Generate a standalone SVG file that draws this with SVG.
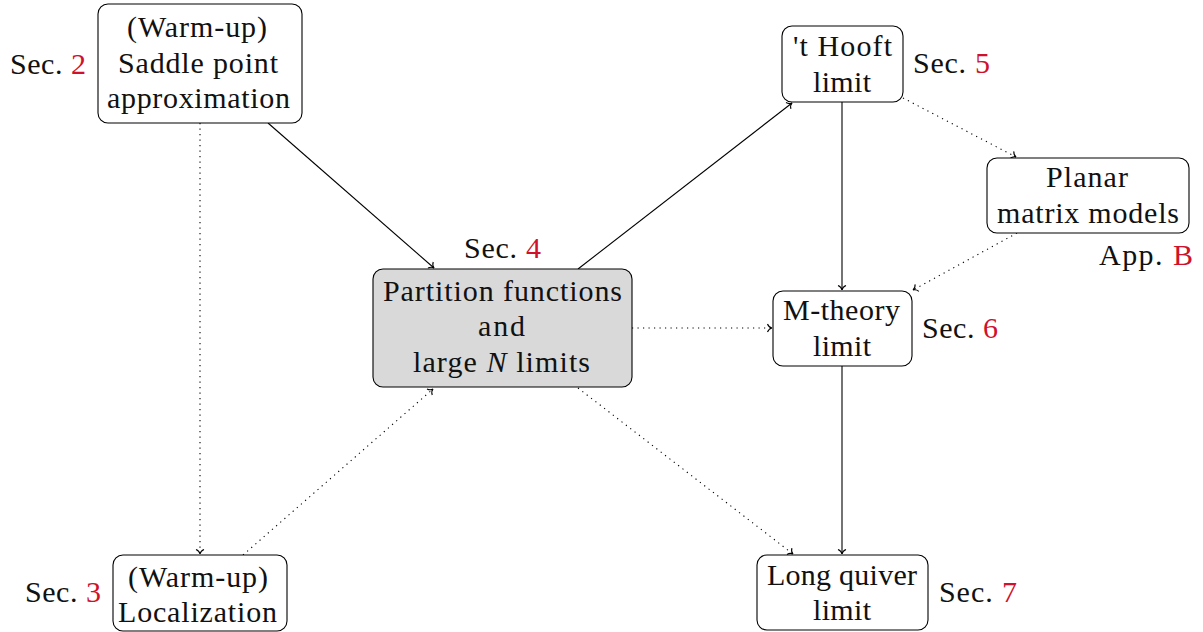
<svg xmlns="http://www.w3.org/2000/svg" width="1203" height="632" viewBox="0 0 1203 632">
<defs>
<style>
.box{fill:#fff;stroke:#000;stroke-width:1.1}
.gray{fill:#d9d9d9}
.t{font-family:'Liberation Serif','DejaVu Serif','Times New Roman',serif;font-size:30px;fill:#111}
.c{text-anchor:middle}
.red{fill:#d0112b}
.e{fill:none;stroke:#000;stroke-width:1.1}
.dot{stroke-dasharray:1.2 4.3}
</style>
<marker id="ah" viewBox="-6 -5 7 10" markerWidth="7" markerHeight="10" refX="0" refY="0" orient="auto" markerUnits="userSpaceOnUse">
<path d="M-4.5,-4 C-3.5,-1.5 -1.5,-0.3 0,0 C-1.5,0.3 -3.5,1.5 -4.5,4" fill="none" stroke="#000" stroke-width="1.1"/>
</marker>
</defs>
<rect width="1203" height="632" fill="#fff"/>
<g id="connectors">
<path class="e" d="M268,123 L434,268" marker-end="url(#ah)"/>
<path class="e dot" d="M200,123 L200,554" marker-end="url(#ah)"/>
<path class="e dot" d="M243,555 L433,389" marker-end="url(#ah)"/>
<path class="e" d="M578,269 L792,103" marker-end="url(#ah)"/>
<path class="e dot" d="M632,328 L772,328" marker-end="url(#ah)"/>
<path class="e dot" d="M578,388 L793,554" marker-end="url(#ah)"/>
<path class="e" d="M842,102 L842,290" marker-end="url(#ah)"/>
<path class="e dot" d="M903,98 L1016,157" marker-end="url(#ah)"/>
<path class="e dot" d="M1017,233 L913,290" marker-end="url(#ah)"/>
<path class="e" d="M842,366 L842,554" marker-end="url(#ah)"/>
</g>
<g id="saddle">
<rect class="box" x="98" y="4" width="204" height="119" rx="10"/>
<text class="t c" x="197" y="37" textLength="140" lengthAdjust="spacing">(Warm-up)</text>
<text class="t c" x="198" y="73" textLength="160" lengthAdjust="spacing">Saddle point</text>
<text class="t c" x="198.5" y="108" textLength="183" lengthAdjust="spacing">approximation</text>
<text class="t" x="10" y="74" textLength="76" lengthAdjust="spacing">Sec. <tspan class="red">2</tspan></text>
</g>
<g id="partition">
<rect class="box gray" x="373" y="269" width="259" height="118" rx="10"/>
<text class="t c" x="502.5" y="301" textLength="239" lengthAdjust="spacing">Partition functions</text>
<text class="t c" x="501.5" y="336" textLength="47" lengthAdjust="spacing">and</text>
<text class="t c" x="501.5" y="372" textLength="177" lengthAdjust="spacing">large <tspan font-style="italic">N</tspan> limits</text>
<text class="t" x="464" y="258" textLength="77" lengthAdjust="spacing">Sec. <tspan class="red">4</tspan></text>
</g>
<g id="thooft">
<rect class="box" x="782" y="26" width="121" height="76" rx="10"/>
<text class="t c" x="842.5" y="56" textLength="99" lengthAdjust="spacing">'t Hooft</text>
<text class="t c" x="842" y="92" textLength="58" lengthAdjust="spacing">limit</text>
<text class="t" x="913" y="73" textLength="77" lengthAdjust="spacing">Sec. <tspan class="red">5</tspan></text>
</g>
<g id="planar">
<rect class="box" x="987" y="158" width="202" height="75" rx="10"/>
<text class="t c" x="1087" y="187" textLength="82" lengthAdjust="spacing">Planar</text>
<text class="t c" x="1088" y="223" textLength="182" lengthAdjust="spacing">matrix models</text>
<text class="t" x="1099" y="265" textLength="94" lengthAdjust="spacing">App. <tspan class="red">B</tspan></text>
</g>
<g id="mtheory">
<rect class="box" x="773" y="291" width="139" height="75" rx="10"/>
<text class="t c" x="841.5" y="320" textLength="117" lengthAdjust="spacing">M-theory</text>
<text class="t c" x="842" y="356" textLength="58" lengthAdjust="spacing">limit</text>
<text class="t" x="922" y="338" textLength="76" lengthAdjust="spacing">Sec. <tspan class="red">6</tspan></text>
</g>
<g id="longquiver">
<rect class="box" x="757" y="555" width="171" height="75" rx="10"/>
<text class="t c" x="842" y="585" textLength="150" lengthAdjust="spacing">Long quiver</text>
<text class="t c" x="842" y="620" textLength="58" lengthAdjust="spacing">limit</text>
<text class="t" x="939" y="602" textLength="78" lengthAdjust="spacing">Sec. <tspan class="red">7</tspan></text>
</g>
<g id="localization">
<rect class="box" x="113" y="555" width="174" height="76" rx="10"/>
<text class="t c" x="198" y="587" textLength="140" lengthAdjust="spacing">(Warm-up)</text>
<text class="t c" x="197.5" y="622" textLength="159" lengthAdjust="spacing">Localization</text>
<text class="t" x="25" y="602" textLength="76" lengthAdjust="spacing">Sec. <tspan class="red">3</tspan></text>
</g>
</svg>
